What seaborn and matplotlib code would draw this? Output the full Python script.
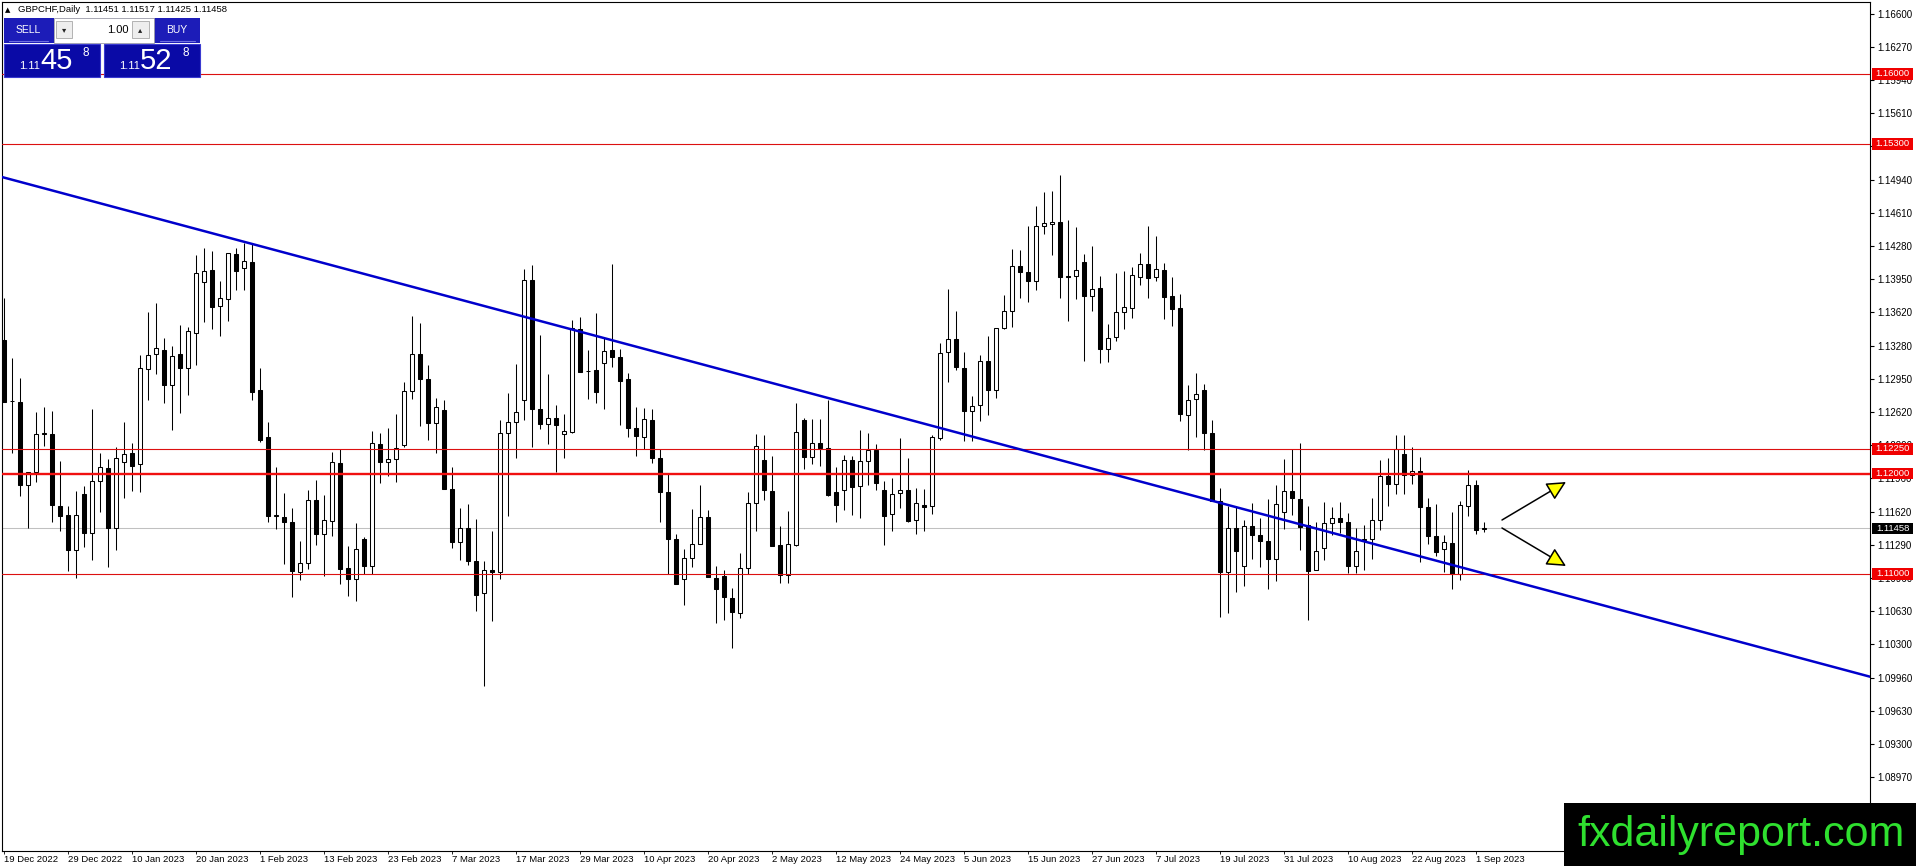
import numpy as np
import pandas as pd
import matplotlib
matplotlib.use("Agg")
import matplotlib.pyplot as plt
import seaborn as sns
from matplotlib.patches import Rectangle
from matplotlib.transforms import blended_transform_factory

# ---------------- data ----------------
opens = [
    1.13340, 1.12727, 1.12717, 1.11893, 1.12017, 1.12403, 1.12400, 1.11680, 1.11590, 1.11243,
    1.11800, 1.11413, 1.11933, 1.12060, 1.11463, 1.12117, 1.12207, 1.12097, 1.13047, 1.13197,
    1.13240, 1.12893, 1.13197, 1.13057, 1.13413, 1.13917, 1.14037, 1.13677, 1.13753, 1.14200,
    1.14057, 1.14120, 1.12837, 1.12370, 1.11580, 1.11570, 1.11517, 1.11017, 1.11107, 1.11737,
    1.11397, 1.11527, 1.12107, 1.11057, 1.10947, 1.11350, 1.11077, 1.12303, 1.12123, 1.12153,
    1.12290, 1.12833, 1.13203, 1.12953, 1.12510, 1.12643, 1.11847, 1.11320, 1.11463, 1.11130,
    1.10813, 1.11043, 1.11020, 1.12413, 1.12520, 1.12740, 1.13940, 1.12653, 1.12503, 1.12563,
    1.12403, 1.12420, 1.13447, 1.13030, 1.13037, 1.13113, 1.13237, 1.13173, 1.12947, 1.12463,
    1.12370, 1.12543, 1.12163, 1.11823, 1.11353, 1.10953, 1.11163, 1.11297, 1.11573, 1.10963,
    1.10980, 1.10763, 1.10613, 1.11063, 1.11713, 1.12143, 1.11833, 1.11293, 1.10987, 1.11293,
    1.12543, 1.12167, 1.12310, 1.12260, 1.11817, 1.11837, 1.12143, 1.11877, 1.12127, 1.12240,
    1.11843, 1.11600, 1.11810, 1.11843, 1.11543, 1.11690, 1.11677, 1.12360, 1.13220, 1.13350,
    1.13060, 1.12627, 1.12687, 1.13127, 1.12837, 1.13460, 1.13627, 1.14083, 1.14020, 1.13927,
    1.14483, 1.14500, 1.14520, 1.13977, 1.13983, 1.14120, 1.13783, 1.13860, 1.13250, 1.13367,
    1.13620, 1.13663, 1.13973, 1.14100, 1.13967, 1.14040, 1.13780, 1.13657, 1.12593, 1.12750,
    1.12843, 1.12410, 1.11727, 1.11020, 1.11460, 1.11077, 1.11483, 1.11393, 1.11333, 1.11153,
    1.11617, 1.11833, 1.11750, 1.11487, 1.11037, 1.11260, 1.11510, 1.11560, 1.11520, 1.11077,
    1.11343, 1.11350, 1.11537, 1.11983, 1.11900, 1.12203, 1.11993, 1.12027, 1.11670, 1.11383,
    1.11250, 1.11310, 1.11003, 1.11683, 1.11887, 1.11451]

highs = [
    1.13757, 1.13157, 1.12957, 1.12017, 1.12623, 1.12667, 1.12633, 1.12130, 1.11683, 1.11833,
    1.11880, 1.12650, 1.12210, 1.12150, 1.12267, 1.12523, 1.12307, 1.13190, 1.13623, 1.13710,
    1.13363, 1.13280, 1.13487, 1.13470, 1.14193, 1.14260, 1.14227, 1.13930, 1.14210, 1.14260,
    1.14310, 1.14310, 1.13057, 1.12523, 1.12070, 1.11807, 1.11657, 1.11327, 1.11843, 1.11943,
    1.11793, 1.12217, 1.12247, 1.11277, 1.11507, 1.11367, 1.12433, 1.12413, 1.12463, 1.12597,
    1.12923, 1.13580, 1.13507, 1.13093, 1.12763, 1.12737, 1.12073, 1.11660, 1.11697, 1.11547,
    1.11130, 1.11427, 1.12540, 1.12807, 1.13103, 1.14053, 1.14090, 1.13387, 1.12997, 1.12687,
    1.12597, 1.13540, 1.13573, 1.13240, 1.13607, 1.13373, 1.14097, 1.13247, 1.13013, 1.12670,
    1.12663, 1.12653, 1.12247, 1.12013, 1.11397, 1.11253, 1.11647, 1.11887, 1.11637, 1.11080,
    1.11040, 1.10863, 1.11213, 1.11820, 1.12403, 1.12393, 1.12183, 1.11477, 1.11627, 1.12710,
    1.12560, 1.12553, 1.12553, 1.12737, 1.12070, 1.12193, 1.12183, 1.12443, 1.12410, 1.12303,
    1.11927, 1.11960, 1.12360, 1.12160, 1.11860, 1.11850, 1.12393, 1.13310, 1.13850, 1.13633,
    1.13220, 1.12783, 1.13193, 1.13377, 1.13460, 1.13793, 1.14250, 1.14243, 1.14483, 1.14677,
    1.14817, 1.14827, 1.14993, 1.14543, 1.14470, 1.14203, 1.14283, 1.13977, 1.13503, 1.14010,
    1.14027, 1.14073, 1.14213, 1.14483, 1.14380, 1.14113, 1.13973, 1.13800, 1.12893, 1.13010,
    1.12903, 1.12543, 1.11860, 1.11677, 1.11677, 1.11543, 1.11710, 1.11560, 1.11750, 1.11893,
    1.12153, 1.12253, 1.12310, 1.11683, 1.11520, 1.11720, 1.11667, 1.11720, 1.11610, 1.11460,
    1.11493, 1.11760, 1.12143, 1.12160, 1.12393, 1.12393, 1.12270, 1.12167, 1.11760, 1.11700,
    1.11393, 1.11617, 1.11727, 1.12043, 1.11937, 1.11517]

lows = [
    1.12717, 1.12210, 1.11777, 1.11460, 1.11923, 1.12283, 1.11523, 1.11433, 1.11033, 1.10957,
    1.11267, 1.11143, 1.11623, 1.11067, 1.11243, 1.11763, 1.11827, 1.11817, 1.12743, 1.12997,
    1.12707, 1.12443, 1.12607, 1.12793, 1.13087, 1.13517, 1.13450, 1.13383, 1.13527, 1.13843,
    1.13843, 1.12743, 1.12317, 1.11523, 1.11450, 1.11100, 1.10767, 1.10940, 1.11050, 1.11293,
    1.10983, 1.11383, 1.10900, 1.10783, 1.10733, 1.11000, 1.11000, 1.11913, 1.11980, 1.11920,
    1.12270, 1.12747, 1.12480, 1.12337, 1.12213, 1.11853, 1.11263, 1.11140, 1.11087, 1.10633,
    1.09880, 1.10530, 1.10947, 1.11580, 1.12157, 1.12540, 1.12273, 1.12447, 1.12297, 1.12020,
    1.12157, 1.12407, 1.13020, 1.12753, 1.12707, 1.12647, 1.13073, 1.12490, 1.12373, 1.12180,
    1.12253, 1.12107, 1.11523, 1.10997, 1.10897, 1.10687, 1.11073, 1.11297, 1.10973, 1.10513,
    1.10540, 1.10257, 1.10563, 1.10997, 1.11430, 1.11743, 1.11277, 1.10910, 1.10910, 1.11277,
    1.12050, 1.12103, 1.12077, 1.11777, 1.11517, 1.11643, 1.11593, 1.11560, 1.11887, 1.11843,
    1.11293, 1.11433, 1.11660, 1.11517, 1.11400, 1.11427, 1.11603, 1.12337, 1.12917, 1.13043,
    1.12333, 1.12327, 1.12527, 1.12593, 1.12760, 1.13450, 1.13470, 1.13760, 1.13717, 1.13837,
    1.14403, 1.14193, 1.13760, 1.13527, 1.13750, 1.13133, 1.13627, 1.13110, 1.13120, 1.13327,
    1.13450, 1.13557, 1.13890, 1.13763, 1.13933, 1.13547, 1.13483, 1.12527, 1.12243, 1.12370,
    1.12237, 1.11727, 1.10570, 1.10610, 1.10820, 1.10877, 1.11153, 1.11070, 1.10850, 1.10927,
    1.11453, 1.11587, 1.11243, 1.10537, 1.11037, 1.11143, 1.11393, 1.11410, 1.11010, 1.11010,
    1.11043, 1.11153, 1.11443, 1.11677, 1.11803, 1.11803, 1.11903, 1.11117, 1.11300, 1.11177,
    1.11020, 1.10850, 1.10937, 1.11577, 1.11400, 1.11425]

closes = [
    1.12723, 1.12725, 1.11893, 1.12017, 1.12400, 1.12405, 1.11693, 1.11583, 1.11243, 1.11590,
    1.11413, 1.11927, 1.12067, 1.11463, 1.12157, 1.12197, 1.12083, 1.13057, 1.13190, 1.13260,
    1.12893, 1.13180, 1.13057, 1.13427, 1.14007, 1.14027, 1.13670, 1.13757, 1.14207, 1.14033,
    1.14127, 1.12823, 1.12343, 1.11583, 1.11585, 1.11517, 1.11027, 1.11107, 1.11737, 1.11397,
    1.11537, 1.12117, 1.11053, 1.10947, 1.11247, 1.11077, 1.12307, 1.12123, 1.12153, 1.12260,
    1.12833, 1.13203, 1.12950, 1.12510, 1.12673, 1.11853, 1.11320, 1.11463, 1.11130, 1.10790,
    1.11040, 1.11020, 1.12413, 1.12520, 1.12620, 1.13940, 1.12650, 1.12503, 1.12563, 1.12490,
    1.12427, 1.13457, 1.13020, 1.13033, 1.12820, 1.13230, 1.13173, 1.12930, 1.12463, 1.12380,
    1.12553, 1.12163, 1.11823, 1.11353, 1.10897, 1.11163, 1.11297, 1.11573, 1.10973, 1.10847,
    1.10773, 1.10620, 1.11063, 1.11713, 1.12280, 1.11837, 1.11283, 1.10987, 1.11303, 1.12420,
    1.12167, 1.12310, 1.12257, 1.11793, 1.11693, 1.12143, 1.11867, 1.12127, 1.12243, 1.11910,
    1.11583, 1.11803, 1.11843, 1.11527, 1.11710, 1.11670, 1.12370, 1.13210, 1.13350, 1.13070,
    1.12627, 1.12677, 1.13130, 1.12837, 1.13460, 1.13627, 1.14083, 1.14017, 1.13927, 1.14477,
    1.14510, 1.14520, 1.13970, 1.13973, 1.14040, 1.13777, 1.13850, 1.13250, 1.13360, 1.13620,
    1.13670, 1.13990, 1.14100, 1.13963, 1.14047, 1.13773, 1.13650, 1.12600, 1.12737, 1.12803,
    1.12410, 1.11727, 1.11020, 1.11460, 1.11227, 1.11483, 1.11387, 1.11327, 1.11153, 1.11700,
    1.11833, 1.11760, 1.11470, 1.11027, 1.11233, 1.11510, 1.11560, 1.11517, 1.11077, 1.11233,
    1.11350, 1.11537, 1.11983, 1.11900, 1.12250, 1.11993, 1.12027, 1.11670, 1.11377, 1.11217,
    1.11317, 1.11000, 1.11693, 1.11887, 1.11437, 1.11458]

date_labels = ["19 Dec 2022", "29 Dec 2022", "10 Jan 2023", "20 Jan 2023", "1 Feb 2023",
               "13 Feb 2023", "23 Feb 2023", "7 Mar 2023", "17 Mar 2023", "29 Mar 2023",
               "10 Apr 2023", "20 Apr 2023", "2 May 2023", "12 May 2023", "24 May 2023",
               "5 Jun 2023", "15 Jun 2023", "27 Jun 2023", "7 Jul 2023", "19 Jul 2023",
               "31 Jul 2023", "10 Aug 2023", "22 Aug 2023", "1 Sep 2023"]
bars_per_label = 8

price_ticks = [1.16600, 1.16270, 1.15940, 1.15610, 1.15280, 1.14940, 1.14610, 1.14280,
               1.13950, 1.13620, 1.13280, 1.12950, 1.12620, 1.12290, 1.11960, 1.11620,
               1.11290, 1.10960, 1.10630, 1.10300, 1.09960, 1.09630, 1.09300, 1.08970]

thin_levels = [1.16000, 1.15300, 1.12250, 1.11000]
thick_levels = [1.12000]
bid_price = 1.11458

trend_x = [-0.5, 233.25]
trend_y = [1.14975, 1.09973]

arrow_start_x = [187.25, 187.25]
arrow_start_y = [1.11540, 1.11460]
arrow_end_x = [195.25, 195.25]
arrow_end_y = [1.11920, 1.11080]

symbol_title = "GBPCHF,Daily  1.11451 1.11517 1.11425 1.11458"
lot_size = "1.00"
sell_quote = ("1.11", "45", "8")
buy_quote = ("1.11", "52", "8")
watermark = "fxdailyreport.com"

# ---------------- figure ----------------
sns.set_theme(style="white")
plt.rcParams["font.family"] = ["Liberation Sans", "DejaVu Sans"]
NARROW = ["Liberation Sans Narrow", "Liberation Sans", "DejaVu Sans"]

W, H = 1916, 866
fig = plt.figure(figsize=(W / 100, H / 100), dpi=100)
fig.patch.set_facecolor("white")
ax = fig.add_axes([2 / W, (H - 851) / H, (1870 - 2) / W, (851 - 2) / H])
ax.set_facecolor("white")

n = min(len(opens), len(highs), len(lows), len(closes))
df = pd.DataFrame({"open": opens[:n], "high": highs[:n], "low": lows[:n], "close": closes[:n]})
df["x"] = np.arange(n)
up = df["close"] >= df["open"]

# current price line (behind)
ax.axhline(bid_price, color="#c0c0c0", lw=0.75, zorder=1)

# wicks & bodies
ax.vlines(df["x"], df["low"], df["high"], color="black", lw=0.75, zorder=2)
body_lo = np.minimum(df["open"], df["close"])
body_h = (df["close"] - df["open"]).abs()
ax.bar(df["x"], body_h, bottom=body_lo, width=0.56,
       color=np.where(up, "white", "black"), edgecolor="black", linewidth=0.75, zorder=3)

# horizontal levels
for lv in thin_levels:
    ax.axhline(lv, color="#dc1010", lw=0.8, zorder=4)
for lv in thick_levels:
    ax.axhline(lv, color="#f01010", lw=1.7, zorder=4)

# trend line
sns.lineplot(x=trend_x, y=trend_y, ax=ax, color="#0000cc", lw=1.8, zorder=5)

# arrows
for sx, sy, ex, ey in zip(arrow_start_x, arrow_start_y, arrow_end_x, arrow_end_y):
    ax.annotate("", xy=(ex, ey), xytext=(sx, sy),
                arrowprops=dict(arrowstyle="-|>,head_length=0.9,head_width=0.45",
                                fc="#ffff00", ec="black", lw=1.1,
                                shrinkA=0, shrinkB=0, mutation_scale=13),
                zorder=6)

ax.set_xlim(-0.25, 233.25)
ax.set_ylim(1.0823, 1.1672)

# axes styling
for sp in ax.spines.values():
    sp.set_color("black")
    sp.set_linewidth(0.8)
    sp.set_visible(True)

ax.yaxis.tick_right()
ax.set_yticks(price_ticks)
ax.set_yticklabels([f"{v:.5f}" for v in price_ticks], fontfamily=NARROW)
ax.tick_params(axis="y", which="major", direction="out", length=3, width=0.8,
               pad=2, labelsize=7, colors="black", left=False, right=True)

xt = np.arange(len(date_labels)) * bars_per_label
ax.set_xticks(xt)
ax.set_xticklabels(date_labels, ha="left", fontfamily=NARROW)
ax.tick_params(axis="x", which="major", direction="out", length=2, width=0.6,
               pad=1, labelsize=6.8, colors="black", bottom=True, top=False)
ax.grid(False)
ax.set_xlabel("")
ax.set_ylabel("")
if ax.get_legend():
    ax.get_legend().remove()

# price labels on the scale
blend = blended_transform_factory(ax.transAxes, ax.transData)
ax_w = 1868.0
bx0 = 1.0 + 2 / ax_w
bw = 41 / ax_w
bh = 0.0011
for lv, fc in [(l, "#f00000") for l in thin_levels + thick_levels] + [(bid_price, "black")]:
    ax.add_patch(Rectangle((bx0, lv - bh / 2), bw, bh, transform=blend, fc=fc, ec="none",
                           clip_on=False, zorder=10))
    ax.text(bx0 + bw / 2, lv, f"{lv:.5f}", transform=blend, ha="center", va="center",
            color="white", fontsize=6.8, fontfamily=NARROW, zorder=11, clip_on=False)

# ---------------- overlay (panel, header, watermark) in pixel coords ----------------
ov = fig.add_axes([0, 0, 1, 1])
ov.set_xlim(0, W)
ov.set_ylim(H, 0)
ov.axis("off")
ov.patch.set_alpha(0)

ov.text(5, 10, "\u25b2", fontsize=5, va="center", ha="left", fontfamily="DejaVu Sans", color="black")
ov.text(18, 10, symbol_title, fontsize=6.8, va="center", ha="left", color="black")

btn_blue = "#1c1cb8"
box_blue = "#0a0aa6"
# top row
ov.add_patch(Rectangle((4, 18), 50, 25, fc=btn_blue, ec="none"))
ov.add_patch(Rectangle((154, 18), 46, 25, fc=btn_blue, ec="none"))
ov.add_patch(Rectangle((54, 18), 100, 25, fc="white", ec="#9a9aa8", lw=0.6))
ov.plot([9, 48], [41, 41], color="#7070e0", lw=0.8)
ov.plot([160, 195], [41, 41], color="#7070e0", lw=0.8)
ov.text(28, 30, "SELL", color="white", fontsize=7.5, ha="center", va="center")
ov.text(177, 30, "BUY", color="white", fontsize=7.5, ha="center", va="center")
ov.add_patch(Rectangle((56, 21), 16, 17, fc="#eeeeee", ec="#a8a8a8", lw=0.6))
ov.add_patch(Rectangle((132, 21), 17, 17, fc="#eeeeee", ec="#a8a8a8", lw=0.6))
ov.text(64, 30, "\u25be", fontsize=6, ha="center", va="center", fontfamily="DejaVu Sans", color="#222222")
ov.text(140.5, 29.5, "\u25b4", fontsize=6, ha="center", va="center", fontfamily="DejaVu Sans", color="#222222")
ov.text(129, 30, lot_size, fontsize=8, ha="right", va="center", color="black")
# bottom price boxes
for x0, q in [(4, sell_quote), (104, buy_quote)]:
    ov.add_patch(Rectangle((x0, 44), 96, 33, fc=box_blue, ec="#3a3ad0", lw=0.8))
    ov.text(x0 + 15, 69, q[0], color="white", fontsize=8, ha="left", va="baseline")
    ov.text(x0 + 36, 69, q[1], color="white", fontsize=21, ha="left", va="baseline")
    ov.text(x0 + 79, 53, q[2], color="white", fontsize=8.5, ha="left", va="center")

# watermark
ov.add_patch(Rectangle((1564, 803), W - 1564, H - 803, fc="black", ec="none"))
ov.text(1741, 846, watermark, color="#2fe02f", fontsize=31, ha="center", va="baseline",
        fontfamily="Liberation Sans")

fig.savefig("out.png", dpi=100, facecolor="white")
